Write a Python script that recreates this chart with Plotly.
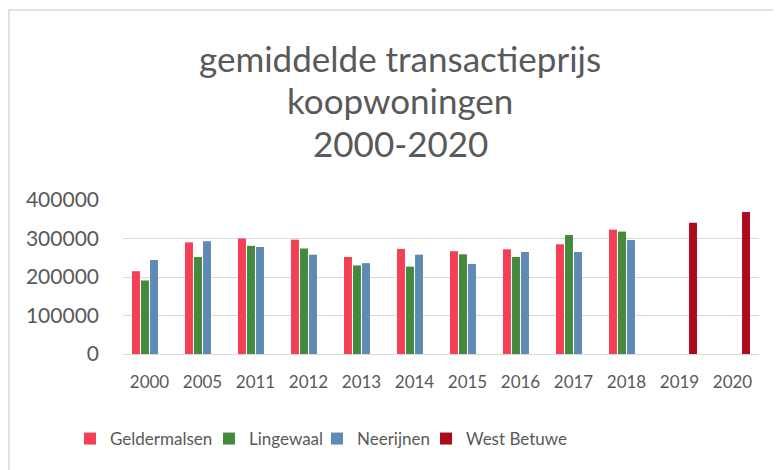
import plotly.graph_objects as go

years = ["2000", "2005", "2011", "2012", "2013", "2014", "2015", "2016", "2017", "2018", "2019", "2020"]
geldermalsen = [215000, 290000, 300000, 297000, 252000, 273000, 267000, 272000, 285000, 323000, None, None]
lingewaal = [191000, 252000, 281000, 274000, 230000, 227000, 259000, 252000, 309000, 318000, None, None]
neerijnen = [244000, 293000, 278000, 258000, 236000, 258000, 234000, 265000, 265000, 296000, None, None]
west_betuwe = [None, None, None, None, None, None, None, None, None, None, 341000, 369000]

series = [
    ("Geldermalsen", geldermalsen, "#F43F54"),
    ("Lingewaal", lingewaal, "#448A3D"),
    ("Neerijnen", neerijnen, "#5E8AB4"),
    ("West Betuwe", west_betuwe, "#AE0A1E"),
]

FONT = "Lato"
GREY = "#595959"

W, H = 781, 470
OFF = 8  # page body margin
PL, PR, PT, PB = 123, 759, 200, 354  # plot area in page pixels
L, R, T, B = PL - OFF, OFF + W - PR, PT - OFF, OFF + H - PB
pw, ph = PR - PL, PB - PT

def px(x):
    return (x - PL) / pw

def py(y):
    return (PB - y) / ph

legend_ids = ["legend", "legend2", "legend3", "legend4"]
legend_x = [70, 209, 317, 426]  # left edge of each legend entry (page px)

fig = go.Figure()
for (name, vals, col), lid in zip(series, legend_ids):
    fig.add_trace(go.Bar(x=years, y=vals, name=name, legend=lid,
                         marker=dict(color=col, line=dict(width=0))))

legend_style = dict(orientation="h", xanchor="left", y=py(439), yanchor="middle",
                    font=dict(size=17, color=GREY), itemwidth=30, bgcolor="rgba(0,0,0,0)")
legends = {lid: dict(x=px(lx), **legend_style) for lid, lx in zip(legend_ids, legend_x)}

fig.update_layout(
    width=W, height=H,
    margin=dict(l=L, r=R, t=T, b=B),
    paper_bgcolor="white", plot_bgcolor="white",
    barmode="group", bargap=0.32, bargroupgap=0.12,
    font=dict(family=FONT, color=GREY),
    showlegend=True,
    xaxis=dict(type="category", showgrid=False, showline=False, ticks="",
               tickfont=dict(size=17, color=GREY), ticklabelstandoff=16),
    yaxis=dict(range=[0, 400000], tickvals=[0, 100000, 200000, 300000, 400000],
               ticktext=["0", "100000", "200000", "300000", "400000"],
               showgrid=True, gridcolor="#D9D9D9", gridwidth=1.3,
               zeroline=True, zerolinecolor="#D9D9D9", zerolinewidth=1.3,
               showline=False, ticks="", tickfont=dict(size=21, color=GREY),
               ticklabelstandoff=23),
    **legends,
)

for text, yc in [("gemiddelde transactieprijs", 58), ("koopwoningen", 100), ("2000-2020", 143)]:
    fig.add_annotation(text=text, xref="paper", yref="paper", x=px(400), y=py(yc),
                       xanchor="center", yanchor="middle", showarrow=False,
                       font=dict(size=35, color=GREY, family=FONT))

fig.add_shape(type="rect", xref="paper", yref="paper", x0=px(9), x1=px(820), y0=py(520), y1=py(10),
              line=dict(color="#D9D9D9", width=1.5), fillcolor="rgba(0,0,0,0)", layer="below")

fig.write_html("out.html")
